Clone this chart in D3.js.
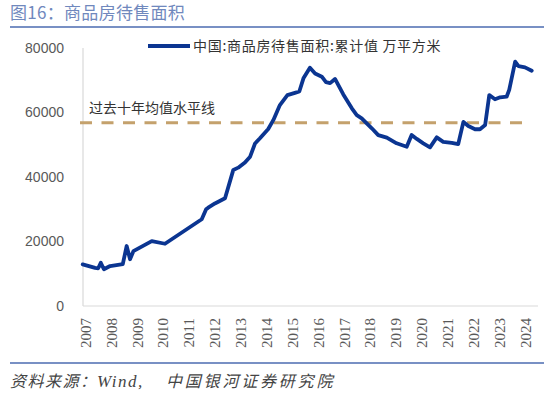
<!DOCTYPE html>
<html>
<head>
<meta charset="utf-8">
<script src="https://cdn.jsdelivr.net/npm/d3@7"></script>
<style>
  body { margin: 0; background: #fff; }
  svg { display: block; }
</style>
</head>
<body>
<svg width="550" height="394"></svg>
<script>
// Data (x as decimal year position, y in 万平方米)
var years = [2006.91, 2007.39, 2007.51, 2007.61, 2007.73, 2007.97, 2008.46, 2008.61, 2008.74, 2008.87,
  2009.58, 2010.09, 2011.51, 2011.68, 2011.76, 2012.02, 2012.41, 2012.73, 2012.92, 2013.18,
  2013.38, 2013.57, 2013.76, 2014.08, 2014.28, 2014.53, 2014.82, 2015.11, 2015.28, 2015.44,
  2015.69, 2015.89, 2016.15, 2016.31, 2016.47, 2016.66, 2016.98, 2017.31, 2017.50, 2017.69,
  2018.08, 2018.33, 2018.66, 2019.04, 2019.43, 2019.62, 2019.82, 2020.07, 2020.33, 2020.59,
  2020.84, 2021.17, 2021.42, 2021.62, 2021.81, 2022.07, 2022.26, 2022.46, 2022.62, 2022.84,
  2023.04, 2023.29, 2023.39, 2023.62, 2023.75, 2024.00, 2024.26];
var forSale = [12900, 11800, 11700, 13400, 11400, 12400, 13000, 18600, 14500, 17000,
  20100, 19300, 26900, 30000, 30500, 31800, 33400, 42200, 42900, 44500,
  46300, 50400, 52000, 54900, 57700, 62300, 65400, 66100, 66500, 70600,
  73900, 72100, 71100, 69400, 69100, 70400, 65600, 61300, 59200, 58200,
  55100, 53000, 52200, 50450, 49400, 53000, 51800, 50450, 49200, 52300,
  50900, 50600, 50200, 57100, 55800, 54800, 54800, 56100, 65400, 64100,
  64700, 64900, 67000, 75750, 74400, 74000, 72950];
var tenYearAvg = 56800;
var yTicks = [0, 20000, 40000, 60000, 80000];
var xTicks = d3.range(2007, 2025);

var seriesName = "中国:商品房待售面积:累计值 万平方米";
var avgLabel = "过去十年均值水平线";
var title = "图16：商品房待售面积";
var sourceHead = "资料来源：";
var sourceWind = "Wind,";
var sourceTail = "中国银河证券研究院";

var svg = d3.select("svg");
var cjk = "'Noto Sans CJK SC', 'Noto Sans', sans-serif";

var x = d3.scaleLinear().domain([2007, 2024]).range([85, 525]);
var y = d3.scaleLinear().domain([0, 80000]).range([306, 48]);

// title + rules
svg.append("text")
  .attr("x", 10).attr("y", 19)
  .style("font-family", cjk).style("font-size", "17px")
  .style("letter-spacing", "0.3px")
  .style("fill", "#7088bd")
  .text(title);
svg.append("line")
  .attr("x1", 10).attr("x2", 544).attr("y1", 27).attr("y2", 27)
  .style("stroke", "#7890c4").style("stroke-width", 2);
svg.append("line")
  .attr("x1", 10).attr("x2", 544).attr("y1", 363).attr("y2", 363)
  .style("stroke", "#7890c4").style("stroke-width", 2);

var src = svg.append("g")
  .style("font-size", "16px")
  .style("font-style", "italic")
  .style("fill", "#444");
src.append("text").attr("x", 10).attr("y", 387)
  .style("font-family", cjk).style("letter-spacing", "1.5px").text(sourceHead);
src.append("text").attr("x", 97).attr("y", 387)
  .style("font-family", "'Liberation Serif', serif").style("font-size", "17px")
  .style("letter-spacing", "1.5px").text(sourceWind);
src.append("text").attr("x", 166).attr("y", 387)
  .style("font-family", cjk).style("letter-spacing", "2.8px").text(sourceTail);

// axes
var yAxis = svg.append("g")
  .attr("transform", "translate(83,0)")
  .call(d3.axisLeft(y).tickValues(yTicks).tickSize(0).tickPadding(19).tickFormat(d3.format("d")));
yAxis.select(".domain").remove();
yAxis.selectAll("text")
  .style("font-family", "'Liberation Sans', sans-serif")
  .style("font-size", "14px")
  .style("fill", "#595959");

svg.append("line")
  .attr("x1", 83).attr("x2", 83).attr("y1", 48).attr("y2", 306)
  .style("stroke", "#d9d9d9").style("stroke-width", 1.2);
svg.append("line")
  .attr("x1", 83).attr("x2", 538).attr("y1", 306).attr("y2", 306)
  .style("stroke", "#d9d9d9").style("stroke-width", 1.2);

var xAxis = svg.append("g")
  .attr("transform", "translate(0,306)")
  .call(d3.axisBottom(x).tickValues(xTicks).tickSize(0).tickFormat(d3.format("d")));
xAxis.select(".domain").remove();
xAxis.selectAll("text")
  .attr("transform", "rotate(-90)")
  .attr("x", -12).attr("y", 0).attr("dy", "0.35em")
  .style("text-anchor", "end")
  .style("font-family", "'Liberation Serif', serif")
  .style("font-size", "15px")
  .style("fill", "#595959");

// ten-year average
svg.append("line")
  .attr("x1", 80).attr("x2", 522)
  .attr("y1", y(tenYearAvg)).attr("y2", y(tenYearAvg))
  .style("stroke", "#c4a16c").style("stroke-width", 3)
  .style("stroke-dasharray", "12,9.5");
svg.append("text")
  .attr("x", 89).attr("y", 113)
  .style("font-family", cjk).style("font-size", "14px")
  .style("fill", "#333")
  .text(avgLabel);

// series
var line = d3.line()
  .x(function(d, i) { return x(years[i]); })
  .y(function(d) { return y(d); });
svg.append("path")
  .datum(forSale)
  .attr("d", line)
  .style("fill", "none")
  .style("stroke", "#0b3591")
  .style("stroke-width", 3.8)
  .style("stroke-linejoin", "round")
  .style("stroke-linecap", "round");

// legend
svg.append("line")
  .attr("x1", 148).attr("x2", 190).attr("y1", 46).attr("y2", 46)
  .style("stroke", "#0b3591").style("stroke-width", 4);
svg.append("text")
  .attr("x", 193).attr("y", 51)
  .style("font-family", cjk).style("font-size", "14px")
  .style("letter-spacing", "0.7px")
  .style("fill", "#333")
  .text(seriesName);
</script>
</body>
</html>
